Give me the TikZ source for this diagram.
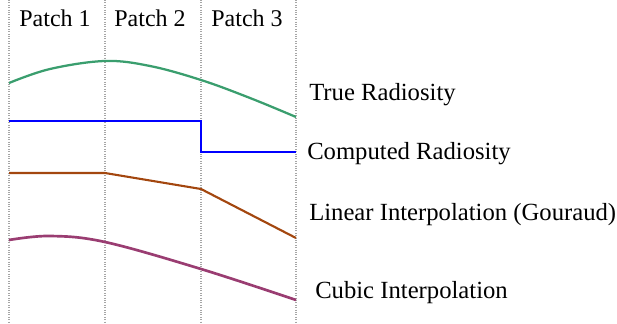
\documentclass[tikz,border=0pt]{standalone}
\usepackage{fontspec}
\setmainfont{Liberation Serif}
\definecolor{truegreen}{RGB}{58,158,110}
\definecolor{gourbrown}{RGB}{163,71,15}
\definecolor{cubicpurple}{RGB}{154,61,114}
\tikzset{patchline/.style={gray!70, densely dotted, line width=0.8pt}}
\tikzset{lbl/.style={anchor=base west, inner sep=0pt, font=\fontsize{18.5}{21}\selectfont}}
\tikzset{patchlbl/.style={anchor=base, inner sep=0pt, font=\fontsize{18}{21}\selectfont}}

\begin{document}
\begin{tikzpicture}[x=0.75pt, y=-0.75pt]
	    \useasboundingbox (0,0) rectangle (617,324);
	    \foreach \px in {9,105,201,296}
	        \draw[patchline] (\px,0)--(\px,324);

	    \node[patchlbl] (p1) at (55,27) {Patch 1};
	    \node[patchlbl] (p2) at (150,27) {Patch 2};
	    \node[patchlbl] (p3) at (247,27) {Patch 3};

	    \draw[truegreen, line width=1.7pt] plot[smooth, tension=0.6] coordinates {(9,83) (50,69) (105,61) (150,66) (201,80) (250,98) (296,117)};
	    \draw[blue, line width=2pt] (9,121)--(201,121)--(201,152)--(296,152);
	    \draw[gourbrown, line width=1.6pt] (9,173)--(105,173)--(201,189)--(296,238);
	    \draw[cubicpurple, line width=2pt] plot[smooth, tension=0.6] coordinates {(9,240) (50,236) (105,242) (201,269) (296,300)};

	    \node[lbl] (truelbl) at (309,100.5) {True Radiosity};
	    \node[lbl] (complbl) at (307,160) {Computed Radiosity};
	    \node[lbl] (linlbl) at (309,220) {Linear Interpolation (Gouraud)};
	    \node[lbl] (cubiclbl) at (315,298.5) {Cubic Interpolation};
	\end{tikzpicture}
\end{document}
